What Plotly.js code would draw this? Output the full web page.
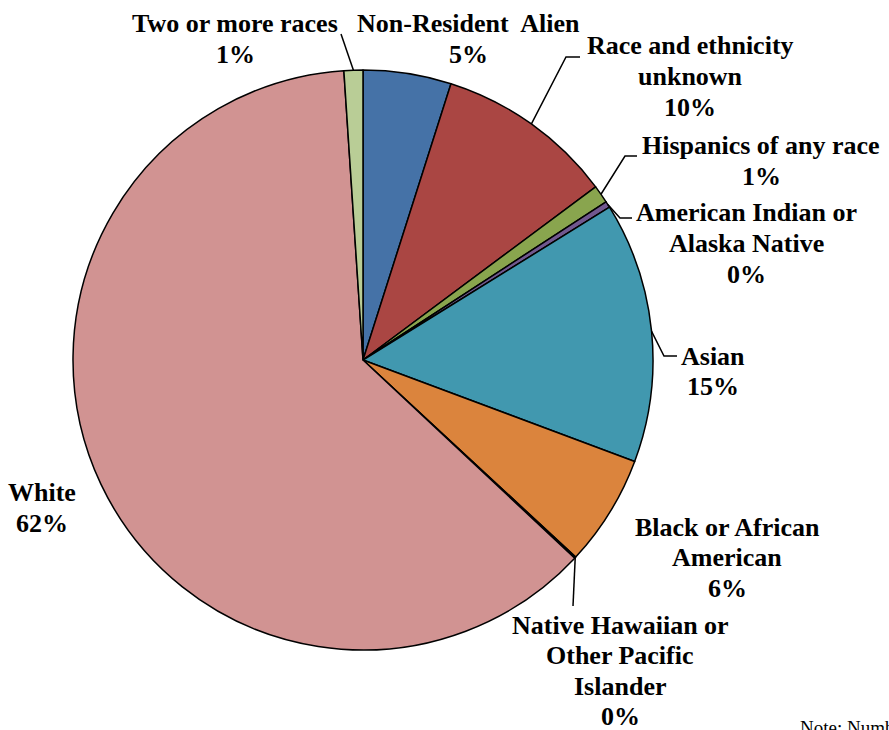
<!DOCTYPE html>
<html><head><meta charset="utf-8">
<script src="https://cdn.plot.ly/plotly-3.0.1.min.js"></script>
</head><body style="margin:0">
<div id="c" style="width:889px;height:730px"></div>
<script>
// Data (clockwise from 12 o'clock)
const categories = ["Non-Resident Alien","Race and ethnicity unknown","Hispanics of any race","American Indian or Alaska Native","Asian","Black or African American","Native Hawaiian or Other Pacific Islander","White","Two or more races"];
const labelLines = [["Non-Resident  Alien"],["Race and ethnicity","unknown"],["Hispanics of any race"],["American Indian or","Alaska Native"],["Asian"],["Black or African","American"],["Native Hawaiian or","Other Pacific","Islander"],["White"],["Two or more races"]];
const shares = [4.9, 9.9, 1.0, 0.35, 14.5, 6.2, 0.08, 61.9, 1.05];
const colors = ["#4572A7","#AA4643","#89A54E","#71588F","#4198AF","#DB843D","#93A9CF","#D19392","#B9CD96"];
const noteText = "Note: Numbers may not sum to 100% due to rounding.";

// Layout geometry (pixels)
const W = 889, H = 730, CX = 363, CY = 360, R = 290;
const px = x => x / W, py = y => 1 - y / H;
const FONT = 'Liberation Serif';
// label centre x, first-line y for each category
const labelPos = [[469,24],[690,46],[761,146],[746,213],[713,356],[727,527],[620,625],[42,493],[235,24]];
// leader line elbows: null = no line
const leaderPts = [null,[[566,57],[580,57]],[[625,156],[637,156]],[[620,218],[632,218]],[[664,356],[677,356]],null,[[573,606]],null,[[341,34]]];

const total = shares.reduce((a,b)=>a+b,0);
const annotations = [];
const shapes = [];
let cum = 0;
shares.forEach((v,i)=>{
  const mid = (cum + v/2) / total * 2 * Math.PI;
  cum += v;
  const ex = CX + R*Math.sin(mid), ey = CY - R*Math.cos(mid);
  const pct = Math.round(v/total*100) + "%";
  const lines = labelLines[i].concat([pct]);
  lines.forEach((t,k)=>{
    annotations.push({x: px(labelPos[i][0]), y: py(labelPos[i][1] + k*30.5), xref:'paper', yref:'paper',
      text: t, showarrow:false, xanchor:'center', yanchor:'middle',
      font:{family:FONT, size:26, color:'#000', weight:'bold'}});
  });
  if (leaderPts[i]) {
    let d = 'M' + px(ex) + ',' + py(ey);
    leaderPts[i].forEach(p => { d += ' L' + px(p[0]) + ',' + py(p[1]); });
    shapes.push({type:'path', xref:'paper', yref:'paper', path:d, line:{color:'#000', width:1.5}});
  }
});
annotations.push({x: px(798), y: py(727), xref:'paper', yref:'paper', xanchor:'left', yanchor:'middle',
  text: noteText, showarrow:false,
  font:{family:FONT, size:19, color:'#000'}});

const trace = {type:'pie', labels: categories, values: shares, sort:false, direction:'clockwise', rotation:0,
  textinfo:'none', hoverinfo:'label+percent', showlegend:false,
  marker:{colors: colors, line:{color:'#000', width:1.5}},
  domain:{x:[px(CX-R), px(CX+R)], y:[py(CY+R), py(CY-R)]}};

Plotly.newPlot('c', [trace], {width:W, height:H, margin:{l:0,r:0,t:0,b:0}, paper_bgcolor:'#fff',
  showlegend:false, annotations: annotations, shapes: shapes, font:{family:FONT}}, {displayModeBar:false});
</script>
</body></html>
